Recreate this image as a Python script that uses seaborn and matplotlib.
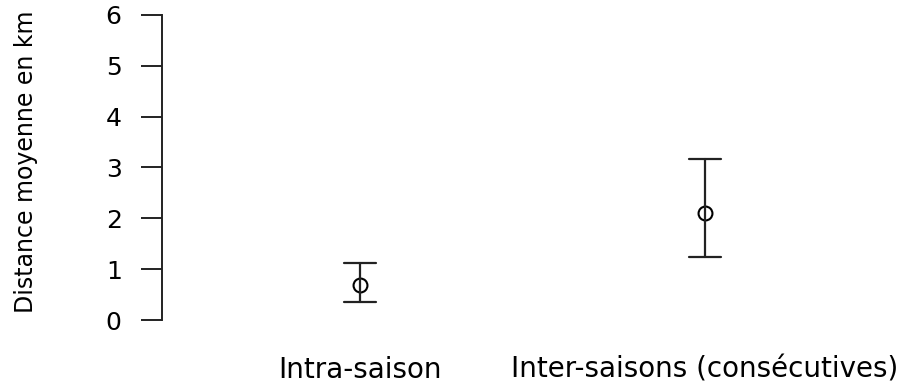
import matplotlib
matplotlib.use("Agg")
import matplotlib.pyplot as plt
import pandas as pd
import seaborn as sns

# Mean distance with the lower / upper bounds of its interval, per group
groups = ["Intra-saison", "Inter-saisons (consécutives)"]
means = [0.68, 2.10]
lower = [0.35, 1.24]
upper = [1.12, 3.16]
y_ticks = [0, 1, 2, 3, 4, 5, 6]

sns.set_style("ticks")
plt.rcParams["font.family"] = ["DejaVu Sans"]
plt.rcParams["text.color"] = "black"
plt.rcParams["axes.labelcolor"] = "black"
plt.rcParams["xtick.color"] = "black"
plt.rcParams["ytick.color"] = "black"

# long form: the median of (low, mean, high) is the mean, the 100% interval is (low, high)
rows = []
for g, lo, m, hi in zip(groups, lower, means, upper):
    for v in (lo, m, hi):
        rows.append({"group": g, "distance": v})
df = pd.DataFrame(rows)

fig = plt.figure(figsize=(9.12, 3.87), dpi=100)
ax = fig.add_axes([162 / 912, 0.1416, 738 / 912, 0.8512])

sns.pointplot(
    data=df,
    x="group",
    y="distance",
    order=groups,
    estimator="median",
    errorbar=("pi", 100),
    capsize=0.093,
    color="black",
    markers="o",
    linestyle="none",
    markerfacecolor="none",
    markersize=10,
    markeredgewidth=1.5,
    linewidth=1.6,
    err_kws={"linewidth": 1.6, "color": "#222222"},
    ax=ax,
)

ax.set_xlim(-0.574, 1.565)
ax.set_ylim(-0.24, 6.24)
ax.set_yticks(y_ticks)
ax.set_yticklabels([str(t) for t in y_ticks])

for side in ["top", "right", "bottom"]:
    ax.spines[side].set_visible(False)
ax.spines["left"].set_bounds(0, 6)
ax.spines["left"].set_linewidth(1.4)
ax.spines["left"].set_color("#222222")

ax.tick_params(axis="y", length=15, width=1.4, color="#222222", labelsize=18, pad=14)
ax.tick_params(axis="x", length=0, labelsize=20, pad=27)
for lab in ax.get_xticklabels():
    lab.set_verticalalignment("center")

ax.set_xlabel("")
ax.set_ylabel("Distance moyenne en km", fontsize=17)
ax.yaxis.set_label_coords(-0.168, 0.517)

fig.savefig("out.png", dpi=100)
